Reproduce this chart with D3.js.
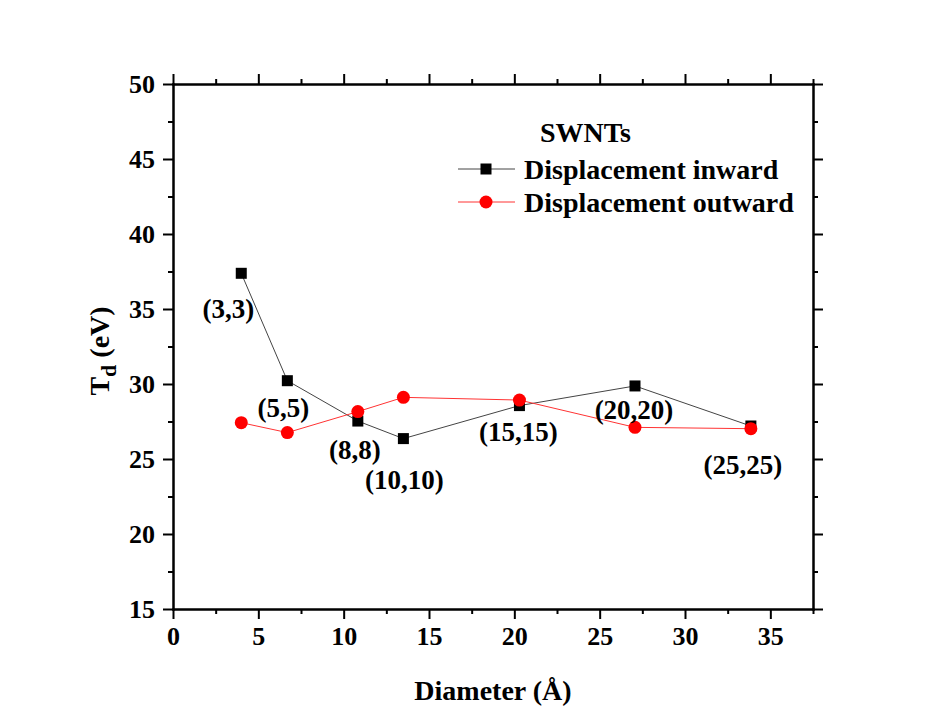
<!DOCTYPE html>
<html lang="en">
<head>
    <meta charset="UTF-8">
    <title>SWNTs Td vs diameter</title>
    <script src="https://d3js.org/d3.v7.min.js"></script>
    <style>
        body { margin: 0; background: #fff; }
        text { font-family: "Liberation Serif", "Times New Roman", serif; font-weight: bold; fill: #000; }
        .domain, .tick line { stroke: #000; stroke-width: 2px; }
    </style>
</head>
<body>
    <div id="chart"></div>
    <script>
        const diameters = [4.0, 6.7, 10.83, 13.5, 20.3, 27.07, 33.86];
        const inward = [37.38, 30.22, 27.53, 26.36, 28.56, 29.87, 27.2];
        const outward = [27.42, 26.76, 28.16, 29.11, 28.93, 27.11, 27.02];
        const chirality = ['(3,3)', '(5,5)', '(8,8)', '(10,10)', '(15,15)', '(20,20)', '(25,25)'];
        const xTicks = [0, 5, 10, 15, 20, 25, 30, 35];
        const yTicks = [15, 20, 25, 30, 35, 40, 45, 50];

        // label offsets from the inward markers, in px
        const labelOffsets = [[-13, 36], [-4, 27], [-3, 29], [1, 41], [-1, 26], [-1, 24], [-8, 39]];

        const W = 930, H = 725;
        const plotL = 173, plotR = 813, plotT = 84, plotB = 609;
        const fs = 27;

        const svg = d3.select('#chart').append('svg')
            .attr('width', W)
            .attr('height', H);

        const x = d3.scaleLinear().domain([0, 37.5]).range([plotL, plotR]);
        const y = d3.scaleLinear().domain([15, 50]).range([plotB, plotT]);

        const xMinor = d3.range(0, 37.6, 2.5).filter(v => v % 5 !== 0);
        const yMinor = d3.range(15, 50, 2.5).filter(v => v % 5 !== 0);

        function styleAxis(g) {
            g.selectAll('.tick text').attr('font-size', 26).attr('fill', '#000');
        }

        // bottom
        svg.append('g').attr('transform', `translate(0,${plotB})`)
            .call(d3.axisBottom(x).tickValues(xTicks).tickSize(10).tickPadding(8).tickSizeOuter(0))
            .call(styleAxis);
        svg.append('g').attr('transform', `translate(0,${plotB})`)
            .call(d3.axisBottom(x).tickValues(xMinor).tickSize(5).tickFormat('').tickSizeOuter(0));
        // top
        svg.append('g').attr('transform', `translate(0,${plotT})`)
            .call(d3.axisBottom(x).tickValues(xTicks).tickSize(-10).tickFormat('').tickSizeOuter(0));
        svg.append('g').attr('transform', `translate(0,${plotT})`)
            .call(d3.axisBottom(x).tickValues(xMinor).tickSize(-5).tickFormat('').tickSizeOuter(0));
        // left
        svg.append('g').attr('transform', `translate(${plotL},0)`)
            .call(d3.axisLeft(y).tickValues(yTicks).tickSize(10).tickPadding(8).tickSizeOuter(0))
            .call(styleAxis);
        svg.append('g').attr('transform', `translate(${plotL},0)`)
            .call(d3.axisLeft(y).tickValues(yMinor).tickSize(5).tickFormat('').tickSizeOuter(0));
        // right
        svg.append('g').attr('transform', `translate(${plotR},0)`)
            .call(d3.axisLeft(y).tickValues(yTicks).tickSize(-10).tickFormat('').tickSizeOuter(0));
        svg.append('g').attr('transform', `translate(${plotR},0)`)
            .call(d3.axisLeft(y).tickValues(yMinor).tickSize(-5).tickFormat('').tickSizeOuter(0));

        svg.selectAll('.domain').attr('stroke-linecap', 'square');

        const line = d3.line().x(d => x(d[0])).y(d => y(d[1]));
        const inPts = diameters.map((d, i) => [d, inward[i]]);
        const outPts = diameters.map((d, i) => [d, outward[i]]);

        svg.append('path').datum(inPts)
            .attr('d', line).attr('fill', 'none').attr('stroke', '#444').attr('stroke-width', 1);
        svg.append('path').datum(outPts)
            .attr('d', line).attr('fill', 'none').attr('stroke', '#f33').attr('stroke-width', 1);

        svg.selectAll('.sq').data(inPts).join('rect')
            .attr('x', d => x(d[0]) - 5.5).attr('y', d => y(d[1]) - 5.5)
            .attr('width', 11).attr('height', 11).attr('fill', '#000');
        svg.selectAll('.ci').data(outPts).join('circle')
            .attr('cx', d => x(d[0])).attr('cy', d => y(d[1]))
            .attr('r', 6.5).attr('fill', '#f00');

        svg.selectAll('.lab').data(inPts).join('text')
            .attr('x', (d, i) => x(d[0]) + labelOffsets[i][0])
            .attr('y', (d, i) => y(d[1]) + labelOffsets[i][1])
            .attr('text-anchor', 'middle')
            .attr('dominant-baseline', 'central')
            .attr('font-size', fs)
            .text((d, i) => chirality[i]);

        // legend
        const lg = svg.append('g');
        lg.append('text').attr('x', 540).attr('y', 142).attr('font-size', 28).text('SWNTs');
        const items = [
            { name: 'Displacement inward', color: '#444', mark: 'sq' },
            { name: 'Displacement outward', color: '#f33', mark: 'ci' }
        ];
        items.forEach((it, i) => {
            const yy = 169 + i * 33;
            lg.append('line').attr('x1', 458).attr('x2', 515).attr('y1', yy).attr('y2', yy)
                .attr('stroke', it.color).attr('stroke-width', 1);
            if (it.mark === 'sq') {
                lg.append('rect').attr('x', 486 - 5.5).attr('y', yy - 5.5)
                    .attr('width', 11).attr('height', 11).attr('fill', '#000');
            } else {
                lg.append('circle').attr('cx', 486).attr('cy', yy).attr('r', 6.5).attr('fill', '#f00');
            }
            lg.append('text').attr('x', 524).attr('y', yy).attr('dominant-baseline', 'central')
                .attr('font-size', 28).text(it.name);
        });

        // axis titles
        svg.append('text').attr('x', 493).attr('y', 700)
            .attr('text-anchor', 'middle').attr('font-size', 28).text('Diameter (Å)');

        const yt = svg.append('text')
            .attr('transform', `translate(109,351) rotate(-90)`)
            .attr('text-anchor', 'middle').attr('font-size', 28);
        yt.append('tspan').text('T');
        yt.append('tspan').attr('dy', 7).attr('font-size', 22).text('d');
        yt.append('tspan').attr('dy', -7).text(' (eV)');
    </script>
</body>
</html>
